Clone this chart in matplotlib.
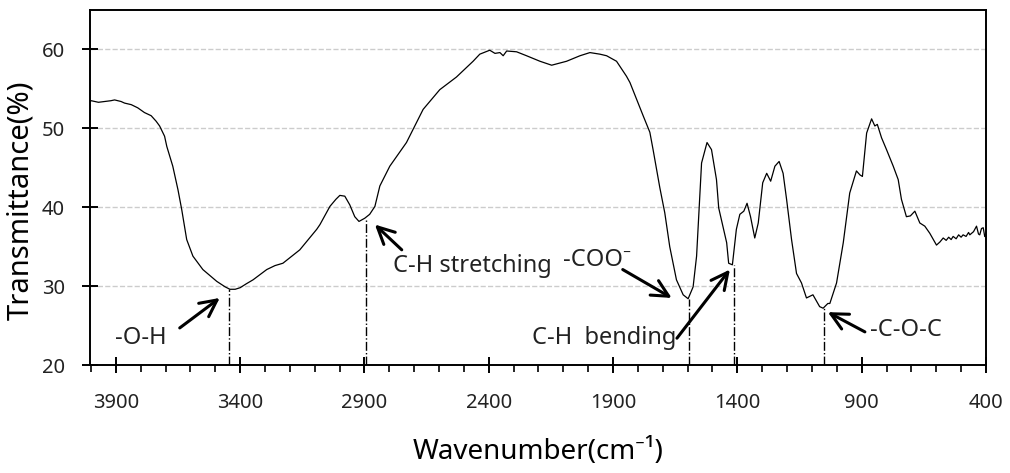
import matplotlib
matplotlib.use("Agg")
import matplotlib.pyplot as plt
from matplotlib.ticker import MultipleLocator

plt.rcParams['font.family'] = ['Noto Sans', 'DejaVu Sans']

# FTIR spectrum (wavenumber in cm-1, transmittance in %)
wavenumber = [4004, 3999, 3970, 3945, 3920, 3905, 3879, 3865, 3838, 3812, 3785, 3758,
              3738, 3724, 3704, 3695, 3671, 3650, 3635, 3615, 3590, 3550, 3494, 3460,
              3441, 3420, 3400, 3375, 3348, 3293, 3260, 3228, 3160, 3092, 3079, 3039,
              3015, 2999, 2979, 2959, 2939, 2922, 2899, 2879, 2858, 2838, 2798, 2731,
              2664, 2597, 2530, 2463, 2436, 2396, 2375, 2355, 2342, 2328, 2288, 2248,
              2194, 2147, 2087, 2033, 1993, 1953, 1926, 1886, 1846, 1832, 1779, 1752,
              1739, 1712, 1692, 1672, 1645, 1618, 1598, 1578, 1564, 1544, 1522, 1504,
              1484, 1475, 1457, 1443, 1435, 1420, 1404, 1390, 1374, 1361, 1347, 1330,
              1316, 1298, 1282, 1266, 1249, 1232, 1216, 1202, 1182, 1162, 1142, 1122,
              1109, 1096, 1069, 1055, 1036, 1028, 1001, 974, 948, 921, 907, 897,
              880, 860, 847, 837, 820, 800, 773, 753, 740, 720, 704, 686,
              666, 646, 626, 599, 585, 572, 560, 550, 540, 532, 520, 510,
              500, 492, 480, 470, 465, 450, 438, 430, 425, 418, 411, 405]
transmittance = [53.4, 53.5, 53.3, 53.4, 53.5, 53.6, 53.4, 53.2, 53.0, 52.6, 52.0, 51.6,
                 50.9, 50.3, 49.0, 47.7, 45.2, 42.2, 39.7, 35.9, 33.8, 32.1, 30.6, 29.9,
                 29.6, 29.6, 29.8, 30.3, 30.8, 32.1, 32.6, 32.9, 34.6, 37.2, 37.8, 40.1,
                 41.0, 41.5, 41.4, 40.3, 38.8, 38.2, 38.6, 39.1, 40.1, 42.7, 45.2, 48.2,
                 52.4, 54.9, 56.5, 58.5, 59.4, 59.9, 59.5, 59.6, 59.2, 59.8, 59.7, 59.2,
                 58.5, 58.0, 58.5, 59.2, 59.6, 59.4, 59.2, 58.5, 56.6, 55.8, 51.6, 49.5,
                 47.3, 42.5, 39.3, 35.0, 30.8, 28.9, 28.4, 29.9, 33.8, 45.6, 48.2, 47.3,
                 43.5, 39.9, 37.4, 35.5, 32.9, 32.7, 37.2, 39.1, 39.5, 40.5, 38.8, 36.1,
                 38.0, 43.1, 44.3, 43.3, 45.2, 45.8, 44.3, 41.0, 35.9, 31.6, 30.4, 28.5,
                 28.7, 28.9, 27.4, 27.2, 27.8, 27.8, 30.4, 35.5, 41.8, 44.6, 44.1, 43.9,
                 49.4, 51.2, 50.3, 50.5, 48.8, 47.3, 45.2, 43.5, 41.0, 38.8, 38.9, 39.5,
                 38.0, 37.6, 36.7, 35.2, 35.6, 36.1, 35.8, 36.2, 35.9, 36.3, 36.0, 36.5,
                 36.2, 36.5, 36.3, 36.8, 36.5, 36.9, 37.6, 36.6, 36.5, 37.3, 37.4, 36.3]

# band assignments: peak position, transmittance at the peak
peak_wn = [3445, 2892, 1596, 1414, 1052]
peak_t = [29.6, 38.6, 28.4, 32.7, 27.2]
labels = ['-O-H', 'C-H stretching', '-COO\u207b', 'C-H  bending', '-C-O-C']
label_xy = [(3904, 23.4), (2786, 32.5), (2102, 33.3), (2227, 23.4), (867, 24.4)]
arrow_tail = [(3643, 24.7), (2750, 34.6), (1861, 32.1), (1643, 23.4), (887, 24.2)]
arrow_head = [(3482, 28.5), (2858, 37.8), (1664, 28.5), (1430, 32.1), (1036, 26.7)]

fig = plt.figure(figsize=(10.1, 4.73), dpi=100)
ax = fig.add_axes([0.0891, 0.2283, 0.8871, 0.7506])

ax.plot(wavenumber, transmittance, color='black', lw=0.9)

for wn, t in zip(peak_wn, peak_t):
    ax.plot([wn, wn], [20, t], color='black', lw=1.0, linestyle='-.')

for txt, xy, tail, head in zip(labels, label_xy, arrow_tail, arrow_head):
    ax.text(xy[0], xy[1], txt, fontsize=17, color='#222222', va='center', ha='left')
    ax.annotate('', xy=head, xytext=tail,
                arrowprops=dict(arrowstyle='->', lw=2.2, color='black',
                                mutation_scale=30, shrinkA=0, shrinkB=0))

ax.set_xlim(4004, 400)
ax.set_ylim(20, 65)
ax.xaxis.set_minor_locator(MultipleLocator(100))
ax.set_xticks([3900, 3400, 2900, 2400, 1900, 1400, 900, 400])
ax.set_yticks([20, 30, 40, 50, 60])

ax.grid(axis='y', color='#cccccc', linestyle='--', lw=1.0)
ax.set_axisbelow(True)

for s in ax.spines.values():
    s.set_linewidth(1.4)

ax.tick_params(axis='both', which='major', direction='inout', length=12, width=1.4,
               labelsize=14.5, colors='black', labelcolor='#222222')
ax.tick_params(axis='x', which='major', pad=14)
ax.tick_params(axis='y', which='major', pad=12)
ax.tick_params(axis='x', which='minor', direction='out', length=5, width=1.2)

ax.set_xlabel('Wavenumber(cm\u207b\u00b9)', fontsize=20)
ax.xaxis.set_label_coords(0.5, -0.205)
ax.set_ylabel('Transmittance(%)', fontsize=21)
ax.yaxis.set_label_coords(-0.061, 0.465)

fig.savefig('out.png', dpi=100)
